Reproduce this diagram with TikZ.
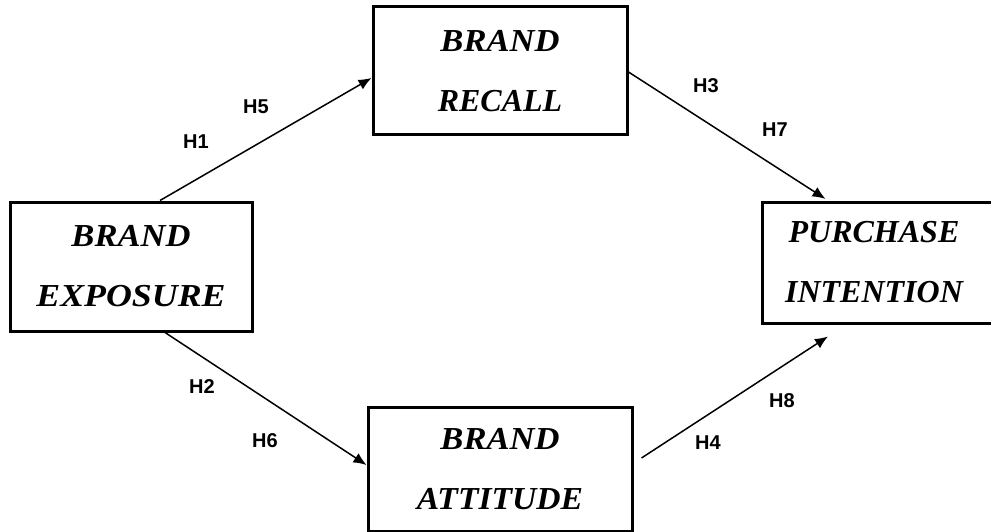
\documentclass[tikz,border=0pt]{standalone}
\usepackage{fontspec}
\setmainfont{Liberation Serif}
\newfontfamily\labfont{Liberation Sans}
\usetikzlibrary{arrows.meta}
\tikzset{
  cbox/.style={draw=black, line width=3pt, inner sep=0pt, align=center,
    font=\fontsize{32}{60}\selectfont\bfseries\itshape},
  hlab/.style={inner sep=0pt, font=\labfont\fontsize{20}{20}\selectfont\bfseries},
  conn/.style={draw=black, line width=1.5pt, -{Latex[length=13pt,width=11pt]}}
}
\begin{document}
\begin{tikzpicture}[x=1pt,y=-1pt]
\useasboundingbox (0,0) rectangle (991,532);
\node[cbox, minimum width=242pt, minimum height=129pt] (exp) at (131,266.5) {\scalebox{1.08}[1]{BRAND}\\\scalebox{1.12}[1]{EXPOSURE}};
\node[cbox, minimum width=254pt, minimum height=128pt] (rec) at (500,71) {\scalebox{1.08}[1]{BRAND}\\RECALL};
\node[cbox, minimum width=240pt, minimum height=121pt, text width=222pt] (pur) at (882,262.5) {\hspace*{-16pt}PURCHASE\\\hspace*{-16pt}INTENTION};
\node[cbox, minimum width=264pt, minimum height=124pt] (att) at (500,469) {\scalebox{1.08}[1]{BRAND}\\\scalebox{1.05}[1]{ATTITUDE}};

\draw[conn] ([xshift=29pt]exp.north) -- ([yshift=-7pt]rec.west);
\draw[conn, shorten >=3pt] ([yshift=-1pt]rec.east) -- ([xshift=-54pt]pur.north);
\draw[conn] ([xshift=34pt]exp.south) -- ([yshift=4pt]att.west);
\draw[conn] ([xshift=8pt,yshift=11pt]att.east) -- ([xshift=-54pt,yshift=-12pt]pur.south);

\node[hlab] (h5) at (256,107) {H5};
\node[hlab] (h1) at (196,142) {H1};
\node[hlab] (h3) at (706,86) {H3};
\node[hlab] (h7) at (775,130) {H7};
\node[hlab] (h2) at (202,387) {H2};
\node[hlab] (h6) at (265,441) {H6};
\node[hlab] (h8) at (782,401) {H8};
\node[hlab] (h4) at (708,443) {H4};
\end{tikzpicture}
\end{document}
